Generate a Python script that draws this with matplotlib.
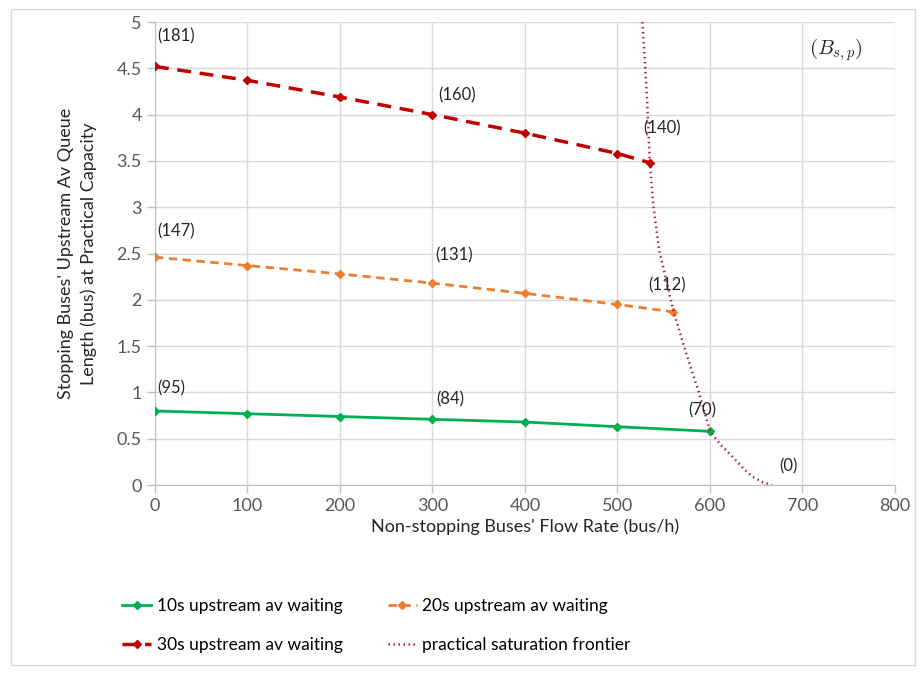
import numpy as np
import matplotlib.pyplot as plt
import matplotlib.patches as patches

plt.rcParams['font.family'] = ['Lato', 'DejaVu Sans']
plt.rcParams['mathtext.fontset'] = 'cm'

# flow rates of non-stopping buses (bus/h)
flow_10s = [0, 100, 200, 300, 400, 500, 600]
queue_10s = [0.80, 0.77, 0.74, 0.71, 0.68, 0.63, 0.58]

flow_20s = [0, 100, 200, 300, 400, 500, 560]
queue_20s = [2.46, 2.37, 2.28, 2.18, 2.07, 1.95, 1.87]

flow_30s = [0, 100, 200, 300, 400, 500, 535]
queue_30s = [4.52, 4.37, 4.19, 4.00, 3.80, 3.58, 3.48]

# practical saturation frontier
frontier_x = [527, 530, 532, 535, 539, 545, 561, 575, 588, 600, 612, 625, 636, 646, 657, 667]
frontier_y = [5.0, 4.5, 4.16, 3.48, 3.0, 2.54, 1.86, 1.4, 1.0, 0.58, 0.43, 0.30, 0.18, 0.09, 0.03, 0.0]

# capacity labels: (text, x, y)
cap_labels = [
    ("(181)", 3, 4.84), ("(160)", 306, 4.21), ("(140)", 528, 3.85),
    ("(147)", 2, 2.74), ("(131)", 303, 2.48), ("(112)", 533, 2.16),
    ("(95)", 3, 1.04), ("(84)", 304, 0.92), ("(70)", 576, 0.81),
    ("(0)", 675, 0.205),
]

fig = plt.figure(figsize=(9.24, 6.73), dpi=100)
fig.patches.append(patches.Rectangle((0.012, 0.012), 0.978, 0.975, transform=fig.transFigure,
                                     fill=False, edgecolor='#d9d9d9', linewidth=1))
ax = fig.add_axes([0.1677, 0.2793, 0.8009, 0.688])

l10, = ax.plot(flow_10s, queue_10s, color='#00b050', linewidth=2, marker='D', markersize=4,
               label='10s upstream av waiting', zorder=3)
l20, = ax.plot(flow_20s, queue_20s, color='#ed7d31', linewidth=2, linestyle=(0, (3, 2)), marker='D',
               markersize=4, label='20s upstream av waiting', zorder=3)
l30, = ax.plot(flow_30s, queue_30s, color='#c00000', linewidth=2.5, linestyle=(0, (4, 2.5)), marker='D',
               markersize=4, label='30s upstream av waiting', zorder=3)
lfr, = ax.plot(frontier_x, frontier_y, color='#9e2a3c', linewidth=1.8, linestyle=(0, (0.6, 1.4)),
               label='practical saturation frontier', zorder=4)

for txt, x, y in cap_labels:
    ax.text(x, y, txt, fontsize=12, color='#262626', ha='left', va='center', zorder=5)
ax.text(707, 4.70, r'$(B_{s,p})$', fontsize=15, color='#262626', ha='left', va='center')

ax.set_xlim(0, 800)
ax.set_ylim(0, 5)
ax.set_xticks(np.arange(0, 801, 100))
ax.set_yticks(np.arange(0, 5.01, 0.5))
ax.set_yticklabels(['0', '0.5', '1', '1.5', '2', '2.5', '3', '3.5', '4', '4.5', '5'])
ax.grid(True, color='#d9d9d9', linewidth=1)
ax.set_axisbelow(True)
for s in ['top', 'right']:
    ax.spines[s].set_visible(False)
for s in ['left', 'bottom']:
    ax.spines[s].set_color('#bfbfbf')
ax.tick_params(axis='both', colors='#bfbfbf', labelcolor='#595959', labelsize=13, length=6, width=1)

ax.set_xlabel("Non-stopping Buses' Flow Rate (bus/h)", fontsize=13, color='#262626', labelpad=3)
ax.set_ylabel("Stopping Buses' Upstream Av Queue\nLength (bus) at Practical Capacity",
              fontsize=13, color='#262626', labelpad=14, linespacing=1.5)

# row-wise order: 10s, 20s / 30s, frontier
fig.legend([l10, l30, l20, lfr], [h.get_label() for h in [l10, l30, l20, lfr]],
           loc='upper left', bbox_to_anchor=(0.115, 1 - 582 / 673), ncol=2,
           frameon=False, fontsize=12.5, handlelength=1.7, handletextpad=0.3,
           columnspacing=2.6, labelspacing=1.35, bbox_transform=fig.transFigure)

fig.savefig('out.png', dpi=100)
